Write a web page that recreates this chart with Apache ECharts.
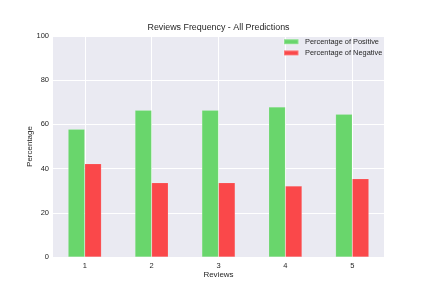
<!DOCTYPE html>
<html>
<head>
<meta charset="utf-8">
<script src="https://cdn.jsdelivr.net/npm/echarts@6/dist/echarts.min.js"></script>
<style>html,body{margin:0;padding:0;background:#fff;}#c{width:427px;height:294px;}</style>
</head>
<body>
<div id="c"></div>
<script>
var categories = ['1', '2', '3', '4', '5'];
var positive = [57.8, 66.4, 66.4, 67.9, 64.6];
var negative = [42.2, 33.6, 33.6, 32.1, 35.4];
var yTicks = [0, 20, 40, 60, 80, 100];

var font = 'Liberation Sans, Arial, sans-serif';
var txt = '#262626';
var chart = echarts.init(document.getElementById('c'), null, {renderer: 'canvas'});
var idx = categories.map(function (c, i) { return i; });
chart.setOption({
  animation: false,
  backgroundColor: '#ffffff',
  title: {
    text: 'Reviews Frequency - All Predictions',
    left: 218.5, top: 23.3, textAlign: 'center', padding: 0,
    textStyle: {fontFamily: font, fontSize: 8.9, fontWeight: 'normal', color: txt}
  },
  legend: {
    orient: 'vertical', left: 283, top: 38.2, padding: 0,
    itemWidth: 14.5, itemHeight: 5, itemGap: 4.2,
    icon: 'rect',
    textStyle: {fontFamily: font, fontSize: 7.4, color: txt, padding: [0, 0, 0, 1.5]},
    data: ['Percentage of Positive', 'Percentage of Negative']
  },
  grid: {
    left: 53, right: 43, top: 36, bottom: 37,
    show: true, backgroundColor: '#EAEAF2', borderWidth: 0,
    containLabel: false
  },
  xAxis: {
    type: 'value', min: -0.475, max: 4.475,
    name: 'Reviews', nameLocation: 'middle', nameGap: 14, nameMoveOverlap: false,
    nameTextStyle: {fontFamily: font, fontSize: 8, color: txt},
    axisLine: {show: false},
    axisTick: {show: false, customValues: idx},
    axisLabel: {customValues: idx, fontFamily: font, fontSize: 7.5, color: txt, margin: 5,
      formatter: function (v) { return categories[Math.round(v)]; }},
    splitLine: {show: true, lineStyle: {color: '#ffffff', width: 1}}
  },
  yAxis: {
    type: 'value', min: 0, max: 100, interval: 20,
    name: 'Percentage', nameLocation: 'middle', nameGap: 19.5, nameMoveOverlap: false,
    nameTextStyle: {fontFamily: font, fontSize: 8, color: txt},
    axisLine: {show: false}, axisTick: {show: false},
    axisLabel: {fontFamily: font, fontSize: 7.5, color: txt, margin: 4,
      formatter: function (v) { return yTicks.indexOf(v) >= 0 ? String(v) : ''; }},
    splitLine: {show: true, lineStyle: {color: '#ffffff', width: 1}}
  },
  series: [
    {
      name: 'Percentage of Positive', type: 'bar', barWidth: 16.6, barGap: '0%',
      itemStyle: {color: 'rgb(105,214,108)', borderColor: 'rgba(255,255,255,0.25)', borderWidth: 0.5},
      data: positive.map(function (v, i) { return [i, v]; })
    },
    {
      name: 'Percentage of Negative', type: 'bar', barWidth: 16.6, barGap: '0%',
      itemStyle: {color: 'rgb(250,72,74)', borderColor: 'rgba(255,255,255,0.25)', borderWidth: 0.5},
      data: negative.map(function (v, i) { return [i, v]; })
    }
  ]
});
</script>
</body>
</html>
